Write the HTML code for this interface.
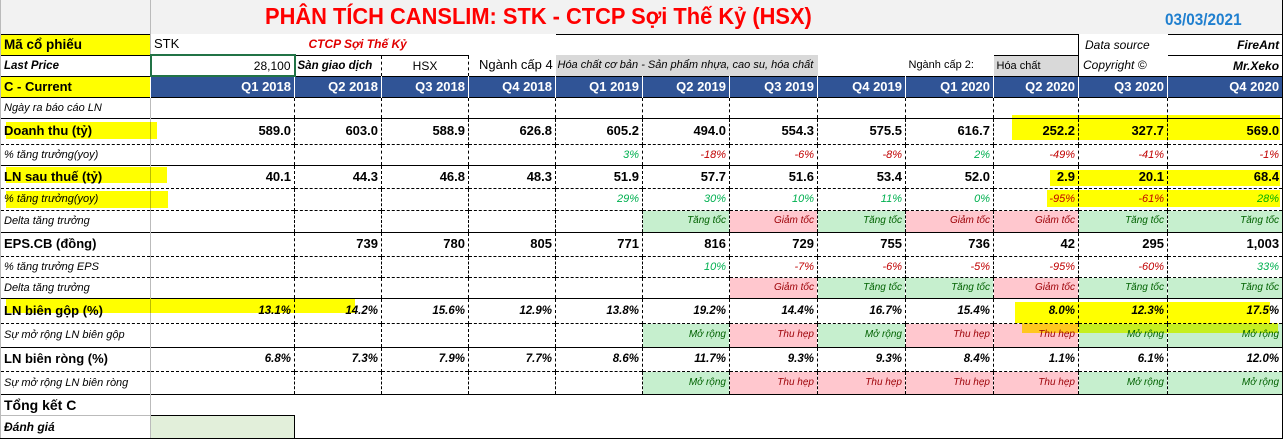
<!DOCTYPE html>
<html><head><meta charset="utf-8"><style>
body{margin:0;width:1285px;height:438px;overflow:hidden;background:#fff;font-family:"Liberation Sans","DejaVu Sans",sans-serif;position:relative}
table{position:absolute;left:0;top:0;border-collapse:collapse;table-layout:fixed;width:1282px}
td{padding:0 3px 0 3px;white-space:nowrap;overflow:hidden;font-size:12px;line-height:14px;box-sizing:border-box;text-align:right;border-right:1px dashed #000;vertical-align:middle}
td.a{text-align:left;border-right:1px solid #bbb;border-left:1px solid #bbb}
tr.s td{border-top:1px solid #000}
tr.d td{border-top:1px dashed #000}
.b{font-weight:bold;font-size:13px}
.i{font-style:italic;font-size:11px}
.bi{font-weight:bold;font-style:italic;font-size:11.5px}
.g{background:#c6efce;color:#006100;font-style:italic;font-size:10px}
.r{background:#ffc7ce;color:#9c0006;font-style:italic;font-size:10px}
.pg{color:#00b050;font-style:italic;font-size:11px}
.pr{color:#c00000;font-style:italic;font-size:11px}
.hd td{background:#305496;color:#fff;font-weight:bold;font-size:13px;border-right:1px solid #fff}
.y{background:#ffff00}
.hl{position:absolute;background:#ffff00;mix-blend-mode:multiply}
</style></head><body>
<table>
<colgroup><col style="width:150px"><col style="width:144px"><col style="width:87px"><col style="width:87px"><col style="width:87px"><col style="width:87px"><col style="width:87px"><col style="width:88px"><col style="width:88px"><col style="width:88px"><col style="width:85px"><col style="width:89px"><col style="width:115px"></colgroup>
<tr style="height:34px"><td class="a" style="background:#f2f2f2"></td><td colspan="12" style="background:#f2f2f2;border-right:1px solid #000;position:relative"></td></tr>
<tr class="s" style="height:21px"><td class="a y b" style="font-size:13.5px">Mã cổ phiếu</td><td style="text-align:left;border:none;font-size:13px">STK</td><td colspan="3" style="text-align:left;border:none;color:#e00000;font-weight:bold;font-style:italic;font-size:12px;padding-left:14px;overflow:visible">CTCP Sợi Thế Kỷ</td><td colspan="6" style="border-right:1px solid #000"></td><td class="i" style="text-align:left;font-size:12px;border:none;padding-left:6px">Data source</td><td class="bi" style="border-right:1px solid #000;font-size:12px">FireAnt</td></tr>
<tr class="s" style="height:21px"><td class="a bi">Last Price</td><td style="border:2px solid #217346;font-size:12px">28,100</td><td class="bi" style="text-align:left;padding-left:2px">Sàn giao dịch</td><td style="text-align:center;font-size:12px">HSX</td><td style="text-align:left;font-size:13px;border:none;padding-left:10px">Ngành cấp 4</td><td colspan="3" class="i" style="text-align:left;background:#d9d9d9;border:none;overflow:visible;padding-left:2px">Hóa chất cơ bản - Sản phẩm nhựa, cao su, hóa chất</td><td style="border:none"></td><td style="border:none;font-size:11px;text-align:left">Ngành cấp 2:</td><td style="background:#d9d9d9;text-align:left;font-size:11px;border-right:1px solid #000">Hóa chất</td><td class="i" style="text-align:left;font-size:12px;border:none;padding-left:4px">Copyright ©</td><td class="bi" style="border-right:1px solid #000;font-size:12px">Mr.Xeko</td></tr>
<tr class="s hd" style="height:21px"><td class="a y" style="color:#000;background:#ffff00">C - Current</td><td>Q1 2018</td><td>Q2 2018</td><td>Q3 2018</td><td>Q4 2018</td><td>Q1 2019</td><td>Q2 2019</td><td>Q3 2019</td><td>Q4 2019</td><td>Q1 2020</td><td>Q2 2020</td><td>Q3 2020</td><td style="border-right:1px solid #000">Q4 2020</td></tr>
<tr class="s" style="height:21px"><td class="a i">Ngày ra báo cáo LN</td><td></td><td></td><td></td><td></td><td></td><td></td><td></td><td></td><td></td><td></td><td></td><td style="border-right:1px solid #000"></td></tr>
<tr class="s b" style="height:26px"><td class="a b">Doanh thu (tỷ)</td><td class="b">589.0</td><td class="b">603.0</td><td class="b">588.9</td><td class="b">626.8</td><td class="b">605.2</td><td class="b">494.0</td><td class="b">554.3</td><td class="b">575.5</td><td class="b">616.7</td><td class="b">252.2</td><td class="b">327.7</td><td class="b" style="border-right:1px solid #000">569.0</td></tr>
<tr class="d" style="height:21px"><td class="a i">% tăng trưởng(yoy)</td><td></td><td></td><td></td><td></td><td class="pg">3%</td><td class="pr">-18%</td><td class="pr">-6%</td><td class="pr">-8%</td><td class="pg">2%</td><td class="pr">-49%</td><td class="pr">-41%</td><td class="pr" style="border-right:1px solid #000">-1%</td></tr>
<tr class="s" style="height:23px"><td class="a b">LN sau thuế (tỷ)</td><td class="b">40.1</td><td class="b">44.3</td><td class="b">46.8</td><td class="b">48.3</td><td class="b">51.9</td><td class="b">57.7</td><td class="b">51.6</td><td class="b">53.4</td><td class="b">52.0</td><td class="b">2.9</td><td class="b">20.1</td><td class="b" style="border-right:1px solid #000">68.4</td></tr>
<tr class="d" style="height:22px"><td class="a i">% tăng trưởng(yoy)</td><td></td><td></td><td></td><td></td><td class="pg">29%</td><td class="pg">30%</td><td class="pg">10%</td><td class="pg">11%</td><td class="pg">0%</td><td class="pr">-95%</td><td class="pr">-61%</td><td class="pg" style="border-right:1px solid #000">28%</td></tr>
<tr class="d" style="height:22px"><td class="a i">Delta tăng trưởng</td><td></td><td></td><td></td><td></td><td></td><td class="g">Tăng tốc</td><td class="r">Giảm tốc</td><td class="g">Tăng tốc</td><td class="r">Giảm tốc</td><td class="r">Giảm tốc</td><td class="g">Tăng tốc</td><td class="g" style="border-right:1px solid #000">Tăng tốc</td></tr>
<tr class="s" style="height:24px"><td class="a b">EPS.CB (đồng)</td><td></td><td class="b">739</td><td class="b">780</td><td class="b">805</td><td class="b">771</td><td class="b">816</td><td class="b">729</td><td class="b">755</td><td class="b">736</td><td class="b">42</td><td class="b">295</td><td class="b" style="border-right:1px solid #000">1,003</td></tr>
<tr class="d" style="height:21px"><td class="a i">% tăng trưởng EPS</td><td></td><td></td><td></td><td></td><td></td><td class="pg">10%</td><td class="pr">-7%</td><td class="pr">-6%</td><td class="pr">-5%</td><td class="pr">-95%</td><td class="pr">-60%</td><td class="pg" style="border-right:1px solid #000">33%</td></tr>
<tr class="d" style="height:21px"><td class="a i">Delta tăng trưởng</td><td></td><td></td><td></td><td></td><td></td><td></td><td class="r">Giảm tốc</td><td class="g">Tăng tốc</td><td class="g">Tăng tốc</td><td class="r">Giảm tốc</td><td class="g">Tăng tốc</td><td class="g" style="border-right:1px solid #000">Tăng tốc</td></tr>
<tr class="s" style="height:25px"><td class="a b">LN biên gộp (%)</td><td class="bi">13.1%</td><td class="bi">14.2%</td><td class="bi">15.6%</td><td class="bi">12.9%</td><td class="bi">13.8%</td><td class="bi">19.2%</td><td class="bi">14.4%</td><td class="bi">16.7%</td><td class="bi">15.4%</td><td class="bi">8.0%</td><td class="bi">12.3%</td><td class="bi" style="border-right:1px solid #000">17.5%</td></tr>
<tr class="d" style="height:24px"><td class="a i">Sự mở rộng LN biên gộp</td><td></td><td></td><td></td><td></td><td></td><td class="g">Mở rộng</td><td class="r">Thu hẹp</td><td class="g">Mở rộng</td><td class="r">Thu hẹp</td><td class="r">Thu hẹp</td><td class="g">Mở rộng</td><td class="g" style="border-right:1px solid #000">Mở rộng</td></tr>
<tr class="s" style="height:24px"><td class="a b">LN biên ròng (%)</td><td class="bi">6.8%</td><td class="bi">7.3%</td><td class="bi">7.9%</td><td class="bi">7.7%</td><td class="bi">8.6%</td><td class="bi">11.7%</td><td class="bi">9.3%</td><td class="bi">9.3%</td><td class="bi">8.4%</td><td class="bi">1.1%</td><td class="bi">6.1%</td><td class="bi" style="border-right:1px solid #000">12.0%</td></tr>
<tr class="d" style="height:23px"><td class="a i">Sự mở rộng LN biên ròng</td><td></td><td></td><td></td><td></td><td></td><td class="g">Mở rộng</td><td class="r">Thu hẹp</td><td class="r">Thu hẹp</td><td class="r">Thu hẹp</td><td class="r">Thu hẹp</td><td class="g">Mở rộng</td><td class="g" style="border-right:1px solid #000">Mở rộng</td></tr>
<tr class="s" style="height:21px"><td class="a b" style="font-size:14px">Tổng kết C</td><td colspan="12" style="border-right:1px solid #000"></td></tr>
<tr style="height:23px"><td class="a bi" style="font-size:12px;border-top:1px solid #bbb;border-bottom:1px solid #000">Đánh giá</td><td style="background:#e2efda;border:1px solid #000"></td><td colspan="11" style="border-right:1px solid #000;border-bottom:1px solid #000"></td></tr>
</table>
<div style="position:absolute;left:265px;top:3px;width:600px;white-space:nowrap"><span style="display:inline-block;color:#ff0000;font-weight:bold;font-size:23px;transform:scaleX(0.95);transform-origin:left">PHÂN TÍCH CANSLIM: STK - CTCP Sợi Thế Kỷ (HSX)</span></div>
<div style="position:absolute;left:1165px;top:10px;color:#1f7fcf;font-weight:bold;font-size:17px;transform:scaleX(0.9);transform-origin:left">03/03/2021</div>
<div class="hl" style="left:6px;top:122px;width:151px;height:17px"></div>
<div class="hl" style="left:1012px;top:115px;width:268px;height:25px"></div>
<div class="hl" style="left:6px;top:167px;width:161px;height:16px"></div>
<div class="hl" style="left:6px;top:191px;width:162px;height:17px"></div>
<div class="hl" style="left:1050px;top:170px;width:230px;height:16px"></div>
<div class="hl" style="left:1047px;top:190px;width:233px;height:17px"></div>
<div class="hl" style="left:6px;top:298px;width:349px;height:15px"></div>
<div class="hl" style="left:1015px;top:302px;width:255px;height:21px"></div>
<div class="hl" style="left:1022px;top:323px;width:256px;height:10px;opacity:0.85"></div>
</body></html>
